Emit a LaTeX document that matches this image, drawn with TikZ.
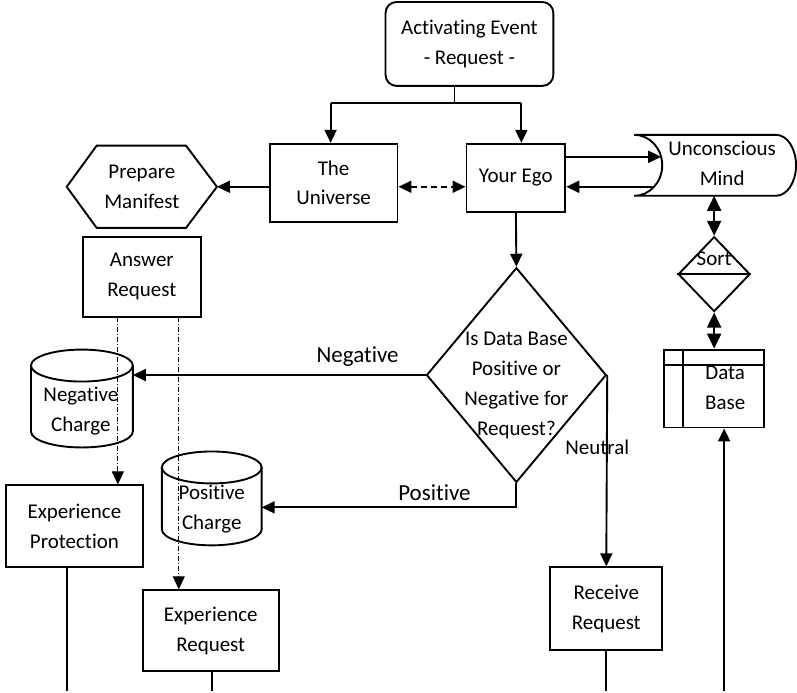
\documentclass[tikz,border=0pt]{standalone}
\usepackage{fontspec}
\setmainfont{Carlito}[Ligatures=NoCommon]
\usetikzlibrary{shapes.geometric,arrows.meta}
\tikzset{
  ln/.style={line width=1.9pt},
  txt/.style={font=\fontsize{21}{30}\selectfont, align=center, inner sep=0pt},
  lab/.style={font=\fontsize{23}{28}\selectfont, inner sep=0pt},
  box/.style 2 args={txt, draw, ln, rectangle, minimum width=#1, minimum height=#2},
  arr/.style={ln, -{Triangle[length=13pt,width=12pt]}},
  darr/.style={ln, {Triangle[length=15pt,width=14pt]}-{Triangle[length=15pt,width=14pt]}},
  dasharr/.style={ln, dash pattern=on 6pt off 4pt, {Triangle[length=13pt,width=12pt]}-{Triangle[length=13pt,width=12pt]}},
  dd/.style={line width=0.9pt, dash pattern=on 5pt off 2pt on 1pt off 2pt, -{Triangle[length=13pt,width=12pt]}},
}
\begin{document}
\begin{tikzpicture}[x=1pt,y=-1pt]
\path[fill=white] (0,0) rectangle (797,692);

% nodes
\node[box={168pt}{84pt}, rounded corners=11pt] (act) at (470,44) {Activating Event\\- Request -};
\node[box={128pt}{78pt}] (univ) at (334,183) {The\\Universe};
\node[box={99pt}{68pt}] (ego) at (516.5,178) {Your Ego};
\node[txt, minimum width=150pt, minimum height=82pt] (prep) at (142,187) {Prepare\\Manifest};
\draw[ln] (prep.west) -- ([xshift=30pt]prep.north west) -- ([xshift=-31pt]prep.north east)
  -- (prep.east) -- ([xshift=-31pt]prep.south east) -- ([xshift=30pt]prep.south west) -- cycle;
\node[box={118pt}{80pt}] (ans) at (142,277) {Answer\\Request};
\node[box={137pt}{82pt}] (exprot) at (74.5,527) {Experience\\Protection};
\node[box={136pt}{81pt}] (expreq) at (211,631.5) {Experience\\Request};
\node[box={112pt}{83pt}] (recv) at (607,609.5) {Receive\\Request};

% unconscious mind
\node[txt] (um) at (723,164) {Unconscious\\Mind};
\draw[ln] (635,135) -- (777,135) arc[start angle=90, end angle=-90, x radius=20pt, y radius=30.5pt]
  -- (635,196) arc[start angle=-90, end angle=90, x radius=28pt, y radius=30.5pt];
\coordinate (umA) at (662,157);
\coordinate (umB) at (655,187);
\coordinate (umbot) at (715,196);

% sort
\node[diamond, draw, ln, inner sep=0pt, minimum width=72pt, minimum height=75pt] (sort) at (715,274.5) {};
\draw[ln] (sort.west) -- (sort.east);
\node[txt] (sortt) at (715,259) {Sort};

% data base
\node[draw, ln, rectangle, inner sep=0pt, minimum width=100pt, minimum height=78pt] (db) at (715,389) {};
\draw[ln] (db.west |- 0,365) -- (db.east |- 0,365);
\draw[ln] (684,0 |- db.north) -- (684,0 |- db.south);
\node[txt] (dbt) at (726,388) {Data\\Base};

% decision
\node[diamond, draw, ln, inner sep=0pt, minimum width=180pt, minimum height=215pt] (dec) at (517,375.5) {};
\node[txt] (dect) at (517,386) {Is Data Base\\Positive or\\Negative for\\Request?};

% cylinders
\draw[ln] (82,366) ellipse [x radius=51pt, y radius=16pt];
\draw[ln] (31,366) -- (31,432) arc[start angle=180, end angle=360, x radius=51pt, y radius=16pt] -- (133,366);
\node[txt] (neg) at (81,412) {Negative\\Charge};
\coordinate (negR) at (133,375.5);
\draw[ln] (212,468) ellipse [x radius=50pt, y radius=16pt];
\draw[ln] (162,468) -- (162,530) arc[start angle=180, end angle=360, x radius=50pt, y radius=16pt] -- (262,468);
\node[txt] (pos) at (212,510) {Positive\\Charge};
\coordinate (posR) at (262,508);

% connectors
\coordinate (jt) at (455,103);
\coordinate (jl) at (331,103);
\coordinate (jr) at (522,103);
\draw[ln] (jt |- act.south) -- (jt);
\draw[ln] (jl) -- (jr);
\draw[arr] (jl) -- (jl |- univ.north);
\draw[arr] (jr) -- (jr |- ego.north);
\draw[arr] (univ.west |- prep.east) -- (prep.east);
\draw[dasharr] (univ.east |- prep.east) -- (ego.west |- prep.east);
\draw[arr] (ego.east |- umA) -- (umA);
\draw[arr] (umB) -- (ego.east |- umB);
\draw[darr] (umbot) -- (sort.north);
\draw[darr] (sort.south) -- (db.north);
\draw[arr] (ego.south) -- (dec.north);
\draw[arr] (dec.west) -- (negR);
\node[lab] (neglab) at (358,357) {Negative};
\draw[arr] (dec.south) -- (dec.south |- posR) -- (posR);
\node[lab] (poslab) at (435,493) {Positive};
\draw[arr] (dec.east) -- (recv.north);
\node[txt] (neulab) at (598,448) {Neutral};

\coordinate (a1) at (118,317);
\coordinate (a2) at (179,317);
\draw[dd] (a1) -- (a1 |- exprot.north);
\draw[dd] (a2) -- (a2 |- expreq.north);

\coordinate (b1) at (67,692);
\coordinate (b2) at (212,692);
\coordinate (b3) at (607,692);
\coordinate (b4) at (725,692);
\draw[ln] (b1 |- exprot.south) -- (b1);
\draw[ln] (b2 |- expreq.south) -- (b2);
\draw[ln] (recv.south) -- (b3);
\draw[arr] (b4) -- (b4 |- db.south);
\end{tikzpicture}
\end{document}
